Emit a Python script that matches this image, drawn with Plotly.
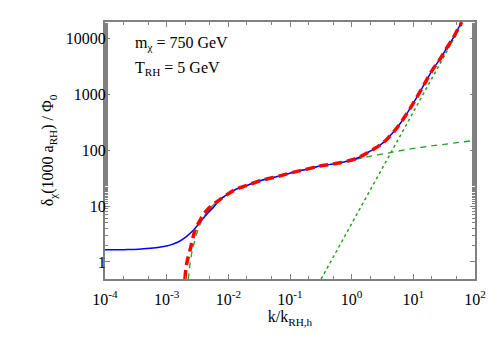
import plotly.graph_objects as go

# values (log-log plot)
k_full = [1e-4, 2e-4, 3.5e-4, 5.4e-4, 8e-4, 1.13e-3, 1.5e-3, 1.86e-3, 2.25e-3, 2.7e-3,
          3.2e-3, 3.9e-3, 4.7e-3, 5.7e-3, 7.8e-3, 1.0e-2, 1.36e-2, 2.0e-2, 3.26e-2,
          0.06, 0.1, 0.18, 0.306, 0.446, 0.65, 1.0, 1.36, 1.54, 2.24, 3.0, 3.7, 4.8,
          6.08, 8.0, 10.0, 13.0, 16.4, 21.0, 27.0, 35.0, 44.6, 52.0, 61.0]
d_full = [1.65, 1.66, 1.68, 1.75, 1.85, 2.0, 2.25, 2.6, 3.05, 3.7,
          4.6, 6.0, 7.6, 9.5, 14.0, 16.5, 20.3, 23.5, 28.5,
          33.5, 39.0, 45.5, 52.5, 56.0, 60.0, 67.0, 76.0, 82.0, 104.0, 128.0, 157.0, 215.0,
          300.0, 470.0, 700.0, 1150.0, 1820.0, 2900.0, 4300.0, 6900.0, 10500.0, 14500.0, 19800.0]

k_approx = [1.98e-3, 2.05e-3, 2.14e-3, 2.24e-3, 2.4e-3, 2.54e-3, 2.88e-3, 3.3e-3, 3.7e-3,
            4.3e-3, 5.05e-3, 6.1e-3, 7.3e-3, 1.0e-2, 1.36e-2, 2.0e-2, 3.26e-2, 0.06, 0.1,
            0.18, 0.306, 0.446, 0.65, 1.0, 1.36, 1.54, 2.24, 3.0, 3.7, 4.8, 6.08, 8.0,
            10.0, 13.0, 16.4, 21.0, 27.0, 35.0, 44.6, 52.0, 61.0]
d_approx = [0.49, 0.75, 1.0, 1.24, 1.65, 2.14, 3.7, 5.0, 6.3,
            8.0, 9.6, 11.4, 13.1, 16.7, 20.3, 23.5, 28.5, 33.5, 39.0,
            45.5, 52.5, 56.0, 60.0, 67.0, 76.0, 82.0, 104.0, 128.0, 157.0, 215.0, 300.0, 470.0,
            700.0, 1150.0, 1820.0, 2900.0, 4300.0, 6900.0, 10500.0, 14500.0, 19800.0]

k_early = [2.24e-3, 2.32e-3, 2.42e-3, 2.6e-3, 2.8e-3, 3.0e-3, 3.4e-3, 3.8e-3, 4.5e-3,
           5.1e-3, 6.2e-3, 7.5e-3, 1.0e-2, 1.36e-2, 2.0e-2, 3.26e-2, 0.06, 0.1, 0.18,
           0.306, 0.446, 0.65, 1.0, 1.54, 2.5, 4.73, 8.0, 18.6, 40.0, 78.0, 95.0]
d_early = [0.49, 0.75, 1.05, 1.6, 2.3, 3.0, 4.4, 5.9, 7.9,
           9.4, 11.3, 13.3, 16.5, 20.3, 23.5, 28.5, 33.5, 39.0, 45.5,
           52.0, 56.0, 60.5, 66.0, 74.0, 82.0, 93.0, 104.0, 119.0, 133.0, 146.0, 150.0]

k_late = [0.32, 64.0]
d_late = [0.494, 20000.0]

x_ticks = [1e-4, 1e-3, 1e-2, 1e-1, 1e0, 1e1, 1e2]
x_ticktext = ["10<sup>-4</sup>", "10<sup>-3</sup>", "10<sup>-2</sup>", "10<sup>-1</sup>",
              "10<sup>0</sup>", "10<sup>1</sup>", "10<sup>2</sup>"]
y_ticks = [1, 10, 100, 1000, 10000]
y_ticktext = ["1", "10", "100", "1000", "10000"]

GREEN = "#1fa51f"
FONT = "Times New Roman, Liberation Serif, DejaVu Serif, serif"

fig = go.Figure()
fig.add_trace(go.Scatter(x=k_late, y=d_late, mode="lines",
                         line=dict(color=GREEN, width=1.5, dash="dot")))
fig.add_trace(go.Scatter(x=k_early, y=d_early, mode="lines",
                         line=dict(color=GREEN, width=1.3, dash="6px,5px")))
fig.add_trace(go.Scatter(x=k_full, y=d_full, mode="lines", line_shape="spline",
                         line=dict(color="#0000ff", width=1.5)))
fig.add_trace(go.Scatter(x=k_approx, y=d_approx, mode="lines", line_shape="spline",
                         line=dict(color="#ff0000", width=3.5, dash="9px,5px")))

axis_common = dict(
    type="log",
    showline=True,
    linecolor="#808080",
    linewidth=2,
    mirror="allticks",
    ticks="inside",
    ticklen=5,
    tickwidth=1,
    tickcolor="#808080",
    showgrid=False,
    zeroline=False,
    tickfont=dict(family=FONT, size=16, color="black"),
    minor=dict(ticks="inside", ticklen=3, tickcolor="#808080", showgrid=False),
)

# the page puts the figure 8px in from the top-left corner
fig.update_layout(
    width=492,
    height=342,
    showlegend=False,
    paper_bgcolor="white",
    plot_bgcolor="white",
    margin=dict(l=97, r=25, t=12, b=71),
    font=dict(family=FONT, color="black"),
    xaxis=dict(
        axis_common,
        range=[-4, 2],
        tickvals=x_ticks,
        ticktext=x_ticktext,
        ticklabelstandoff=5,
        title=dict(text="k/k<sub>RH,h</sub>", font=dict(family=FONT, size=16), standoff=4),
    ),
    yaxis=dict(
        axis_common,
        range=[-0.306, 4.3],
        tickvals=y_ticks,
        ticktext=y_ticktext,
        ticklabelstandoff=-6,
        title=dict(text="δ<sub>χ</sub>(1000 a<sub>RH</sub>) / Φ<sub>0</sub>",
                   font=dict(family=FONT, size=16), standoff=8),
    ),
    annotations=[
        dict(x=0.075, y=0.915, xref="paper", yref="paper", xanchor="left", yanchor="middle",
             text="m<sub>χ</sub> = 750 GeV", showarrow=False,
             font=dict(family=FONT, size=16)),
        dict(x=0.075, y=0.82, xref="paper", yref="paper", xanchor="left", yanchor="middle",
             text="T<sub>RH</sub> = 5 GeV", showarrow=False,
             font=dict(family=FONT, size=16)),
    ],
)

fig.write_html("out.html")
